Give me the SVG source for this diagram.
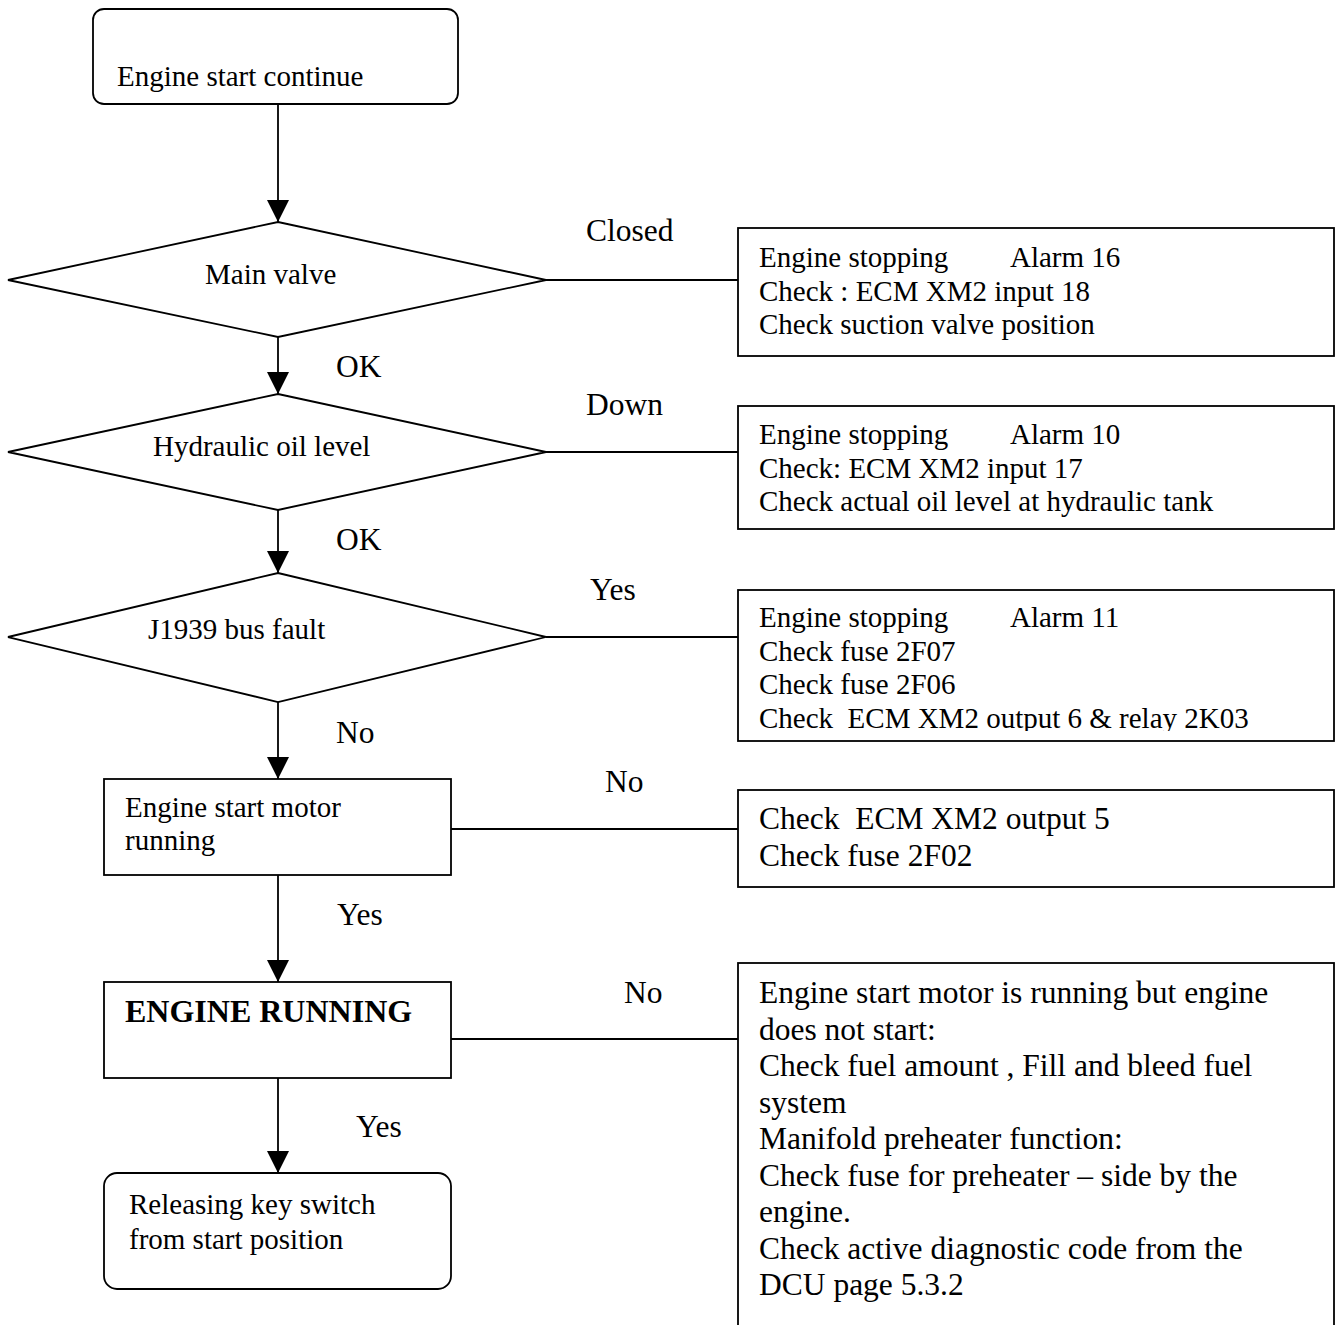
<svg xmlns="http://www.w3.org/2000/svg" width="1342" height="1325" viewBox="0 0 1342 1325">
<style>
  .shape { fill: #fff; stroke: #000; stroke-width: 1.8; }
  .conn { fill: none; stroke: #000; stroke-width: 1.8; }
  text { font-family: "Liberation Serif", "Times New Roman", serif; fill: #000; white-space: pre; }
  .t { font-size: 29px; }
  .tl { font-size: 31.5px; }
  .tb { font-size: 32px; font-weight: bold; }
</style>
<defs>
  <marker id="arr" markerWidth="22" markerHeight="22" viewBox="0 0 22 22" refX="22" refY="11" orient="auto" markerUnits="userSpaceOnUse">
    <path d="M0,0 L22,11 L0,22 Z" fill="#000"/>
  </marker>
  <clipPath id="clip3"><rect x="738" y="590" width="596" height="141"/></clipPath>
</defs>
<rect width="1342" height="1325" fill="#fff"/>

<g id="connectors">
  <line class="conn" x1="278" y1="104" x2="278" y2="222" marker-end="url(#arr)"/>
  <line class="conn" x1="278" y1="337" x2="278" y2="394" marker-end="url(#arr)"/>
  <line class="conn" x1="278" y1="510" x2="278" y2="573" marker-end="url(#arr)"/>
  <line class="conn" x1="278" y1="702" x2="278" y2="779" marker-end="url(#arr)"/>
  <line class="conn" x1="278" y1="875" x2="278" y2="982" marker-end="url(#arr)"/>
  <line class="conn" x1="278" y1="1078" x2="278" y2="1173" marker-end="url(#arr)"/>
  <line class="conn" x1="546" y1="280" x2="738" y2="280"/>
  <line class="conn" x1="546" y1="452" x2="738" y2="452"/>
  <line class="conn" x1="546" y1="637" x2="738" y2="637"/>
  <line class="conn" x1="451" y1="829" x2="738" y2="829"/>
  <line class="conn" x1="451" y1="1039" x2="738" y2="1039"/>
  <text class="tl" x="586" y="241">Closed</text>
  <text class="tl" x="336" y="377">OK</text>
  <text class="tl" x="586" y="415">Down</text>
  <text class="tl" x="336" y="550">OK</text>
  <text class="tl" x="590" y="600">Yes</text>
  <text class="tl" x="336" y="743">No</text>
  <text class="tl" x="605" y="792">No</text>
  <text class="tl" x="337" y="925">Yes</text>
  <text class="tl" x="624" y="1003">No</text>
  <text class="tl" x="356" y="1137">Yes</text>
</g>

<g id="start">
  <rect class="shape" x="93" y="9" width="365" height="95" rx="11"/>
  <text class="t" x="117" y="86">Engine start continue</text>
</g>

<g id="main-valve">
  <polygon class="shape" points="278,222 546,280 278,337 8,280"/>
  <text class="t" x="205" y="284">Main valve</text>
</g>

<g id="box-main-valve">
  <rect class="shape" x="738" y="228" width="596" height="128"/>
  <text class="t" x="759" y="267">Engine stopping<tspan x="1010">Alarm 16</tspan></text>
  <text class="t" x="759" y="300.5">Check : ECM XM2 input 18</text>
  <text class="t" x="759" y="334">Check suction valve position</text>
</g>

<g id="hydraulic">
  <polygon class="shape" points="278,394 546,452 278,510 8,452"/>
  <text class="t" x="153" y="456">Hydraulic oil level</text>
</g>

<g id="box-hydraulic">
  <rect class="shape" x="738" y="406" width="596" height="123"/>
  <text class="t" x="759" y="444">Engine stopping<tspan x="1010">Alarm 10</tspan></text>
  <text class="t" x="759" y="477.5">Check: ECM XM2 input 17</text>
  <text class="t" x="759" y="511">Check actual oil level at hydraulic tank</text>
</g>

<g id="j1939">
  <polygon class="shape" points="278,573 546,637 278,702 8,637"/>
  <text class="t" x="148" y="639">J1939 bus fault</text>
</g>

<g id="box-j1939">
  <rect class="shape" x="738" y="590" width="596" height="151"/>
  <g clip-path="url(#clip3)">
    <text class="t" x="759" y="627">Engine stopping<tspan x="1010">Alarm 11</tspan></text>
    <text class="t" x="759" y="660.5">Check fuse 2F07</text>
    <text class="t" x="759" y="694">Check fuse 2F06</text>
    <text class="t" x="759" y="728">Check  ECM XM2 output 6 &amp; relay 2K03</text>
  </g>
</g>

<g id="start-motor">
  <rect class="shape" x="104" y="779" width="347" height="96"/>
  <text class="t" x="125" y="817">Engine start motor</text>
  <text class="t" x="125" y="850">running</text>
</g>

<g id="box-start-motor">
  <rect class="shape" x="738" y="790" width="596" height="97"/>
  <text class="tl" x="759" y="829">Check  ECM XM2 output 5</text>
  <text class="tl" x="759" y="866">Check fuse 2F02</text>
</g>

<g id="engine-running">
  <rect class="shape" x="104" y="982" width="347" height="96"/>
  <text class="tb" x="125" y="1022">ENGINE RUNNING</text>
</g>

<g id="box-engine-running">
  <rect class="shape" x="738" y="963" width="596" height="380"/>
  <text class="tl" x="759" y="1003">Engine start motor is running but engine</text>
  <text class="tl" x="759" y="1039.5">does not start:</text>
  <text class="tl" x="759" y="1076">Check fuel amount , Fill and bleed fuel</text>
  <text class="tl" x="759" y="1112.5">system</text>
  <text class="tl" x="759" y="1149">Manifold preheater function:</text>
  <text class="tl" x="759" y="1185.5">Check fuse for preheater – side by the</text>
  <text class="tl" x="759" y="1222">engine.</text>
  <text class="tl" x="759" y="1258.5">Check active diagnostic code from the</text>
  <text class="tl" x="759" y="1295">DCU page 5.3.2</text>
</g>

<g id="release">
  <rect class="shape" x="104" y="1173" width="347" height="116" rx="13"/>
  <text class="t" x="129" y="1214">Releasing key switch</text>
  <text class="t" x="129" y="1249">from start position</text>
</g>
</svg>
